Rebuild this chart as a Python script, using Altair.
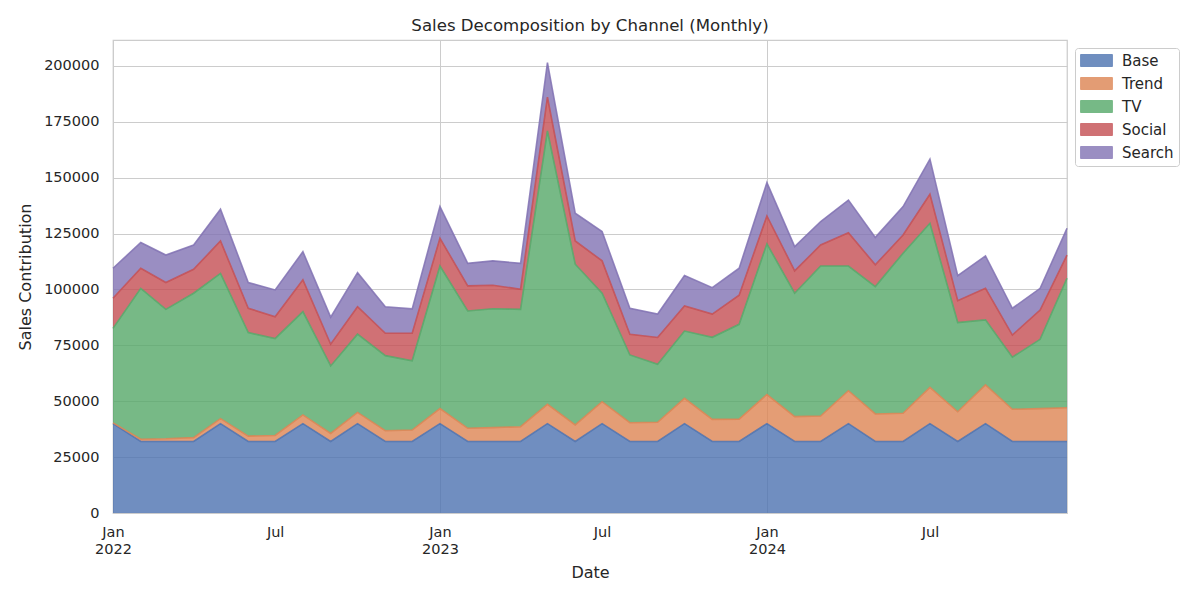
import altair as alt
import pandas as pd

months = pd.date_range("2022-01-01", periods=36, freq="MS")

series_names = ["Base", "Trend", "TV", "Social", "Search"]
series_colors = ["#4C72B0", "#DD8452", "#55A868", "#C44E52", "#8172B3"]

base = [40000, 32000, 32000, 32000, 40000, 32000, 32000, 40000, 32000, 40000, 32000, 32000,
        40000, 32000, 32000, 32000, 40000, 32000, 40000, 32000, 32000, 40000, 32000, 32000,
        40000, 32000, 32000, 40000, 32000, 32000, 40000, 32000, 40000, 32000, 32000, 32000]
trend = [300, 1000, 1200, 1700, 2200, 2400, 2700, 3900, 3600, 5000, 4800, 5100,
         6700, 5900, 6200, 6600, 8600, 7400, 9800, 8400, 8600, 11300, 9900, 10000,
         13000, 11100, 11400, 14700, 12300, 12600, 16200, 13300, 17300, 14400, 14700, 15100]
tv = [42300, 67500, 57900, 64600, 65000, 46300, 43300, 46200, 30200, 35000, 33600, 31000,
      63800, 52500, 53200, 52500, 122300, 71900, 48500, 30300, 25900, 30100, 36700, 42400,
      67400, 55200, 67100, 55800, 57000, 71600, 73400, 39900, 29100, 23300, 31000, 57900]
social = [13500, 9000, 12000, 10700, 14500, 10900, 9800, 14200, 9700, 12300, 10000, 12300,
          12400, 11200, 10500, 9000, 15100, 10400, 14500, 9300, 12000, 11200, 10400, 13000,
          12500, 10000, 9400, 14900, 9700, 8200, 13000, 9800, 14100, 9900, 13100, 10400]
search = [13400, 11500, 12300, 10900, 14200, 11500, 12000, 12600, 12100, 15200, 11900, 10900,
          14200, 10100, 10900, 11600, 15500, 12400, 13100, 11600, 10500, 13600, 11800, 12100,
          14900, 10900, 10500, 14600, 12300, 12700, 15700, 11200, 14500, 12000, 9700, 12000]

y_ticks = [0, 25000, 50000, 75000, 100000, 125000, 150000, 175000, 200000]
x_ticks = ["2022-01-01T00:00:00", "2022-07-01T00:00:00", "2023-01-01T00:00:00",
           "2023-07-01T00:00:00", "2024-01-01T00:00:00", "2024-07-01T00:00:00"]

rows = []
for idx, (name, vals) in enumerate(zip(series_names, [base, trend, tv, social, search])):
    for d, v in zip(months, vals):
        rows.append({"Date": d.strftime("%Y-%m-%dT00:00:00"), "Channel": name, "Value": v, "idx": idx})
df = pd.DataFrame(rows)

FONT = "DejaVu Sans"
TXT = "#262626"

chart = alt.Chart(df).mark_area(
    opacity=0.8,
    line=alt.OverlayMarkDef(strokeWidth=1.6, opacity=0.85),
).encode(
    x=alt.X("Date:T", title="Date",
            scale=alt.Scale(nice=False),
            axis=alt.Axis(values=x_ticks,
                          labelExpr="month(datum.value) == 0 ? ['Jan', timeFormat(datum.value, '%Y')] : 'Jul'",
                          ticks=False, labelPadding=12, labelAngle=0, labelAlign="center",
                          labelLineHeight=17, titlePadding=9,
                          gridOpacity=alt.condition("month(datum.value) == 0", alt.value(1), alt.value(0)))),
    y=alt.Y("Value:Q", title="Sales Contribution", stack="zero",
            scale=alt.Scale(domain=[0, 211600], nice=False, zero=True),
            axis=alt.Axis(values=y_ticks, format="d", ticks=False, labelPadding=14, titlePadding=10)),
    color=alt.Color("Channel:N",
                    scale=alt.Scale(domain=series_names, range=series_colors),
                    legend=alt.Legend(title=None, orient="none", legendX=962, legendY=8,
                                      symbolType="M-2.65,-1H2.65V1H-2.65Z", symbolSize=144,
                                      symbolOpacity=0.8, symbolStrokeWidth=1,
                                      labelFontSize=15, labelFont=FONT, labelColor=TXT,
                                      rowPadding=6, padding=5, cornerRadius=3,
                                      strokeColor="#cccccc", fillColor="white",
                                      symbolOffset=9, labelOffset=18)),
    order=alt.Order("idx:Q", sort="ascending"),
).properties(
    width=954, height=473,
    title=alt.TitleParams("Sales Decomposition by Channel (Monthly)", fontSize=16.6,
                          font=FONT, color=TXT, fontWeight="normal", offset=5),
    autosize=alt.AutoSizeParams(type="none"),
    padding={"left": 105, "top": 32, "right": 125, "bottom": 78},
).configure_view(
    stroke="#cccccc", strokeWidth=1.25,
).configure_axis(
    labelFont=FONT, labelFontSize=14.5, labelColor=TXT,
    titleFont=FONT, titleFontSize=16, titleColor=TXT, titleFontWeight="normal",
    gridColor="#cccccc", gridWidth=1, domain=False,
)

chart.save("out.html", embed_options={"renderer": "svg", "actions": False})
